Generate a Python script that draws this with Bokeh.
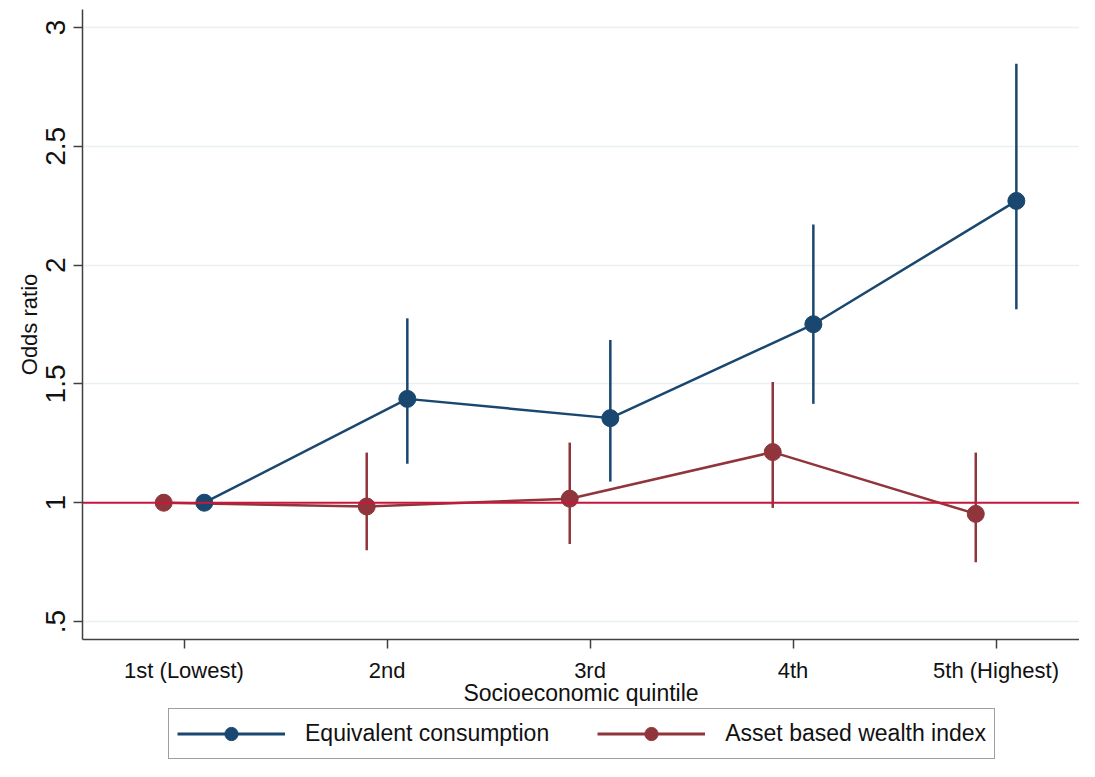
from bokeh.plotting import figure
from bokeh.layouts import column
from bokeh.models import Range1d, FixedTicker, Legend, LegendItem, Span, ColumnDataSource
from bokeh.embed import file_html
from bokeh.resources import INLINE

# ---- data ----
quintiles = [1, 2, 3, 4, 5]
quintile_labels = ["1st (Lowest)", "2nd", "3rd", "4th", "5th (Highest)"]

cons_or = [1.0, 1.437, 1.356, 1.751, 2.270]
cons_lo = [float("nan"), 1.164, 1.089, 1.416, 1.814]
cons_hi = [float("nan"), 1.776, 1.685, 2.171, 2.847]

asset_or = [1.0, 0.984, 1.017, 1.213, 0.953]
asset_lo = [float("nan"), 0.800, 0.826, 0.978, 0.749]
asset_hi = [float("nan"), 1.211, 1.253, 1.508, 1.211]

y_ticks = [0.5, 1, 1.5, 2, 2.5, 3]
y_tick_labels = [".5", "1", "1.5", "2", "2.5", "3"]

series_labels = ["Equivalent consumption", "Asset based wealth index"]
reference_value = 1.0

# ---- styling ----
BLUE = "#1a476f"
RED = "#90353b"
REFLINE = "#c8173c"
AXIS = "#404040"
GRID = "#e8f0f2"
FONT = "Liberation Sans"

dodge = 0.1
cons_src = ColumnDataSource(dict(x=[q + dodge for q in quintiles], y=cons_or, lo=cons_lo, hi=cons_hi))
asset_src = ColumnDataSource(dict(x=[q - dodge for q in quintiles], y=asset_or, lo=asset_lo, hi=asset_hi))

W = 1079
p = figure(width=W, height=708,
           x_range=Range1d(0.5, 5.411), y_range=Range1d(0.4244, 3.0756),
           output_backend="svg", toolbar_location=None,
           min_border_left=82, min_border_right=0, min_border_top=9, min_border_bottom=68)
p.outline_line_color = None
p.background_fill_color = "white"
p.border_fill_color = "white"

# grid
p.xgrid.visible = False
p.ygrid.ticker = FixedTicker(ticks=y_ticks)
p.ygrid.grid_line_color = GRID
p.ygrid.grid_line_width = 1.5

# axes
p.xaxis.ticker = FixedTicker(ticks=quintiles)
p.xaxis.major_label_overrides = {q: lab for q, lab in zip(quintiles, quintile_labels)}
p.yaxis.ticker = FixedTicker(ticks=y_ticks)
p.yaxis.major_label_overrides = {float(t): lab for t, lab in zip(y_ticks, y_tick_labels)}
p.yaxis.major_label_orientation = "parallel"

for ax in (p.xaxis, p.yaxis):
    ax.axis_line_color = AXIS
    ax.axis_line_width = 1.5
    ax.major_tick_line_color = AXIS
    ax.major_tick_line_width = 1.5
    ax.major_tick_out = 9
    ax.major_tick_in = 0
    ax.minor_tick_line_color = None
    ax.major_label_text_font = FONT
    ax.major_label_text_color = "#111111"
    ax.axis_label_text_font = FONT
    ax.axis_label_text_font_style = "normal"
    ax.axis_label_text_color = "#111111"

p.xaxis.axis_label = "Socioeconomic quintile"
p.xaxis.major_label_text_font_size = "22px"
p.xaxis.axis_label_text_font_size = "23px"
p.xaxis.major_label_standoff = 9
p.xaxis.axis_label_standoff = -6

p.yaxis.axis_label = "Odds ratio"
p.yaxis.major_label_text_font_size = "28px"
p.yaxis.axis_label_text_font_size = "22px"
p.yaxis.major_label_standoff = 8
p.yaxis.axis_label_standoff = 2

# reference line
p.add_layout(Span(location=reference_value, dimension="width", line_color=REFLINE, line_width=2))

# asset-based series
p.segment(x0="x", y0="lo", x1="x", y1="hi", source=asset_src, line_color=RED, line_width=2.5)
p.line("x", "y", source=asset_src, line_color=RED, line_width=2.5)
p.scatter("x", "y", source=asset_src, size=17, fill_color=RED, line_color=RED)

# consumption series
p.segment(x0="x", y0="lo", x1="x", y1="hi", source=cons_src, line_color=BLUE, line_width=2.5)
p.line("x", "y", source=cons_src, line_color=BLUE, line_width=2.5)
p.scatter("x", "y", source=cons_src, size=17, fill_color=BLUE, line_color=BLUE)

# ---- legend strip (separate small figure below the plot) ----
# same series, drawn into a y range far above the data so only the legend shows
lg = figure(width=W, height=53, x_range=p.x_range, y_range=Range1d(100, 101),
            output_backend="svg", toolbar_location=None,
            min_border_left=82, min_border_right=0, min_border_top=0, min_border_bottom=0)
lg.axis.visible = False
lg.grid.visible = False
lg.outline_line_color = None
items = []
for lab, col, src in zip(series_labels, [BLUE, RED], [cons_src, asset_src]):
    ln = lg.line("x", "y", source=src, line_color=col, line_width=3)
    pt = lg.scatter("x", "y", source=src, size=15, fill_color=col, line_color=col)
    items.append(LegendItem(label=lab, renderers=[ln, pt]))

legend = Legend(items=items, orientation="horizontal", location=(86, 2))
legend.glyph_width = 108
legend.glyph_height = 33
legend.label_standoff = 20
legend.spacing = 48
legend.padding = 8
legend.margin = 0
legend.label_text_font = FONT
legend.label_text_font_size = "23px"
legend.label_text_color = "#111111"
legend.label_height = 24
legend.border_line_color = AXIS
legend.border_line_width = 1.5
legend.background_fill_color = "white"
lg.add_layout(legend, "center")

layout = column(p, lg, spacing=0)
open("out.html", "w").write(file_html(layout, INLINE))
